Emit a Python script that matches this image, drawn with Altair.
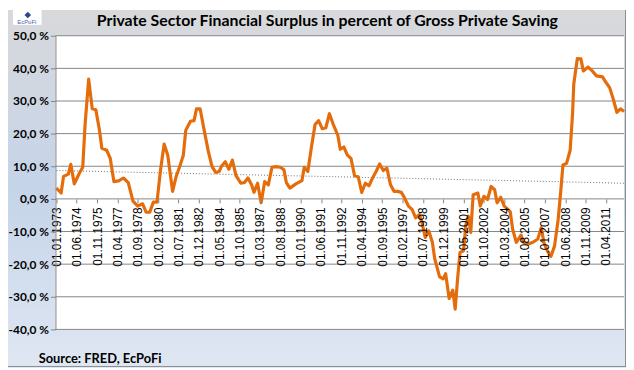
import altair as alt
import pandas as pd

# ---------------- data ----------------
dates = [
    "1973-01-01", "1973-05-01", "1973-07-01", "1973-11-01", "1974-01-01", "1974-04-01", "1974-08-01", "1974-11-01",
    "1975-01-01", "1975-04-01", "1975-07-01", "1975-10-01", "1976-01-01", "1976-03-01", "1976-07-01", "1976-10-01",
    "1977-01-01", "1977-05-01", "1977-09-01", "1978-01-01", "1978-05-01", "1978-09-01", "1979-01-01", "1979-04-01",
    "1979-07-01", "1979-10-01", "1980-01-01", "1980-04-01", "1980-07-01", "1980-10-01", "1981-02-01", "1981-05-01",
    "1981-08-01", "1981-11-01", "1982-01-01", "1982-05-01", "1982-08-01", "1982-10-01", "1983-01-01", "1983-05-01",
    "1983-08-01", "1983-11-01", "1984-02-01", "1984-05-01", "1984-07-01", "1984-10-01", "1985-01-01", "1985-04-01",
    "1985-07-01", "1985-11-01", "1986-02-01", "1986-05-01", "1986-08-01", "1986-10-01", "1987-01-01", "1987-04-01",
    "1987-07-01", "1987-10-01", "1988-01-01", "1988-04-01", "1988-08-01", "1988-11-01", "1989-01-01", "1989-04-01",
    "1989-09-01", "1990-02-01", "1990-04-01", "1990-07-01", "1990-10-01", "1991-01-01", "1991-04-01", "1991-07-01",
    "1991-10-01", "1992-01-01", "1992-04-01", "1992-08-01", "1992-10-01", "1993-01-01", "1993-04-01", "1993-07-01",
    "1993-10-01", "1994-01-01", "1994-04-01", "1994-07-01", "1994-10-01", "1995-01-01", "1995-04-01", "1995-07-01",
    "1995-10-01", "1996-01-01", "1996-04-01", "1996-07-01", "1996-10-01", "1997-01-01", "1997-03-01", "1997-07-01",
    "1997-10-01", "1998-01-01", "1998-04-01", "1998-06-01", "1998-09-01", "1998-12-01", "1999-03-01", "1999-05-01",
    "1999-09-01", "1999-12-01", "2000-02-01", "2000-05-01", "2000-08-01", "2000-10-01", "2000-12-01", "2001-02-01",
    "2001-05-01", "2001-07-01", "2001-09-01", "2001-11-01", "2002-01-01", "2002-05-01", "2002-07-01", "2002-10-01",
    "2003-01-01", "2003-04-01", "2003-07-01", "2003-09-01", "2003-12-01", "2004-03-01", "2004-06-01", "2004-08-01",
    "2004-10-01", "2005-01-01", "2005-05-01", "2005-07-01", "2005-11-01", "2006-03-01", "2006-07-01", "2006-10-01",
    "2006-12-01", "2007-03-01", "2007-06-01", "2007-09-01", "2007-12-01", "2008-02-01", "2008-04-01", "2008-07-01",
    "2008-10-01", "2008-12-01", "2009-01-01", "2009-04-01", "2009-07-01", "2009-09-01", "2010-01-01", "2010-04-01",
    "2010-08-01", "2011-01-01", "2011-03-01", "2011-07-01", "2011-10-01", "2012-01-01", "2012-04-01", "2012-07-01",
]
values = [
    3.3, 1.8, 6.9, 7.6, 10.6, 4.6, 7.7, 9.7,
    23.0, 36.7, 27.6, 27.3, 21.0, 15.5, 14.9, 12.4,
    5.3, 5.5, 6.4, 5.0, -0.7, -2.2, -1.5, -4.1,
    -4.1, -1.0, -1.0, 8.9, 16.8, 13.4, 2.3, 6.8,
    9.9, 13.4, 21.0, 23.8, 24.0, 27.6, 27.6, 20.0,
    14.4, 9.9, 8.1, 8.4, 10.1, 11.4, 9.1, 11.9,
    7.1, 4.8, 5.0, 6.4, 4.3, 2.0, 4.8, -1.2,
    5.3, 4.3, 9.7, 9.9, 9.7, 8.9, 5.0, 3.3,
    4.6, 5.6, 9.7, 8.4, 15.9, 22.8, 24.0, 21.5,
    21.8, 26.1, 23.0, 19.5, 15.2, 15.9, 13.4, 12.4,
    7.1, 6.8, 2.0, 4.8, 4.0, 6.4, 8.4, 10.7,
    8.7, 9.4, 4.3, 2.3, 2.3, 2.0, 0.8, -2.2,
    -3.2, -5.8, -4.8, -6.8, -11.8, -9.8, -13.3, -18.4,
    -23.9, -24.5, -22.9, -30.5, -28.0, -33.8, -24.5, -16.4,
    -15.9, -7.8, -5.3, -10.3, 1.3, 1.8, -2.2, 0.8,
    -0.2, 3.8, 2.8, -1.2, 0.5, -2.2, -3.2, -4.0,
    -9.3, -13.3, -11.1, -13.3, -13.8, -13.3, -12.3, -8.8,
    -13.3, -15.9, -17.6, -14.4, -6.3, 1.8, 10.4, 10.9,
    14.9, 26.1, 35.2, 43.0, 42.9, 39.2, 40.4, 39.4,
    37.7, 37.4, 36.2, 34.1, 30.6, 26.5, 27.6, 26.8,
]
# linear trend line at its two ends
trend_dates = ["1973-01-01", "2012-07-01"]
trend_values = [8.7, 4.8]

x_tick_dates = [
    "1973-01-01", "1974-06-01", "1975-11-01", "1977-04-01", "1978-09-01", "1980-02-01", "1981-07-01",
    "1982-12-01", "1984-05-01", "1985-10-01", "1987-03-01", "1988-08-01", "1990-01-01", "1991-06-01",
    "1992-11-01", "1994-04-01", "1995-09-01", "1997-02-01", "1998-07-01", "1999-12-01", "2001-05-01",
    "2002-10-01", "2004-03-01", "2005-08-01", "2007-01-01", "2008-06-01", "2009-11-01", "2011-04-01",
]
x_domain = ["1972-12-08", "2012-07-01"]
y_ticks = [-40, -30, -20, -10, 0, 10, 20, 30, 40, 50]
title_text = "Private Sector Financial Surplus in percent of Gross Private Saving"
source_text = "Source: FRED,  EcPoFi"
logo_text = "EcPoFi"

# ---------------- layout ----------------
W, H = 575, 297
one = alt.Data(values=[{}])


def dt(s):
    y, m, d = map(int, s.split("-"))
    return alt.DateTime(year=y, month=m, date=d)


df = pd.DataFrame({"date": dates, "value": values})
trend_df = pd.DataFrame({"date": trend_dates, "value": trend_values})
grid_df = pd.DataFrame({"v": y_ticks})

xscale = alt.Scale(domain=[dt(x_domain[0]), dt(x_domain[1])])
yscale = alt.Scale(domain=[-40, 50], nice=False, zero=False)

yaxis = alt.Axis(
    values=y_ticks, title=None, grid=False, zindex=1,
    labelExpr="(datum.value < 0 ? '-' : '') + replace(format(abs(datum.value), '.1f'), '.', ',') + ' %'",
    labelFont="Lato", labelFontWeight="bold", labelFontSize=12, labelColor="black",
    labelPadding=2, tickSize=5, tickColor="#868686", domainColor="#868686",
)
xaxis = alt.Axis(
    values=[dt(s) for s in x_tick_dates], format="%d.%m.%Y", title=None, grid=False, zindex=1,
    labelAngle=270, labelFont="Liberation Sans", labelFontSize=12, labelColor="black",
    labelPadding=4, labelOverlap=False, labelFlush=False, labelBound=False,
    tickSize=4, tickColor="#868686", domain=False, offset=-132,
)

bg = alt.Chart(one).mark_rect(
    fill=alt.LinearGradient(
        gradient="linear",
        stops=[
            alt.GradientStop(color="#d8d9db", offset=0),
            alt.GradientStop(color="#c5d4e9", offset=0.5),
            alt.GradientStop(color="#dfe7f2", offset=1),
        ],
        x1=0, x2=0, y1=0, y2=1,
    )
).encode(x=alt.value(-48), x2=alt.value(577), y=alt.value(-26), y2=alt.value(336))

plot_bg = alt.Chart(one).mark_rect(fill="white").encode(
    x=alt.value(0), x2=alt.value(W), y=alt.value(0), y2=alt.value(H)
)

grid = alt.Chart(grid_df).mark_rule(color="#868686", strokeWidth=1).encode(
    y=alt.Y("v:Q", scale=yscale, axis=yaxis), x=alt.value(0), x2=alt.value(W)
)

trend = alt.Chart(trend_df).mark_line(color="#6f6f6f", strokeDash=[1, 2], strokeWidth=1).encode(
    x=alt.X("date:T", scale=xscale, axis=xaxis), y=alt.Y("value:Q", scale=yscale, axis=yaxis)
)

line = alt.Chart(df).mark_line(color="#E46C0A", strokeWidth=3.2, strokeJoin="round").encode(
    x=alt.X("date:T", scale=xscale, axis=xaxis), y=alt.Y("value:Q", scale=yscale, axis=yaxis)
)

title = alt.Chart(alt.Data(values=[{"t": title_text}])).mark_text(
    font="Lato", fontWeight="bold", fontSize=16, align="center", baseline="middle", color="black"
).encode(x=alt.value(275), y=alt.value(-15), text="t:N")

source = alt.Chart(alt.Data(values=[{"t": source_text}])).mark_text(
    font="Lato", fontWeight="bold", fontSize=13, align="left", baseline="middle", color="black"
).encode(x=alt.value(-17), y=alt.value(327), text="t:N")

logo_box = alt.Chart(one).mark_rect(fill="white").encode(
    x=alt.value(-43), x2=alt.value(-14), y=alt.value(-26), y2=alt.value(-11)
)
logo_mark = alt.Chart(one).mark_point(shape="diamond", filled=True, color="#2a4b8d", size=45, opacity=1).encode(
    x=alt.value(-28), y=alt.value(-21)
)
logo_txt = alt.Chart(alt.Data(values=[{"t": logo_text}])).mark_text(
    font="Liberation Sans", fontSize=6, align="center", baseline="middle", color="#4466aa"
).encode(x=alt.value(-29), y=alt.value(-13.5), text="t:N")

border_r = alt.Chart(one).mark_rule(color="#8c8c8c", strokeWidth=1).encode(
    x=alt.value(576.5), y=alt.value(-26), y2=alt.value(335)
)
border_b = alt.Chart(one).mark_rule(color="#8c8c8c", strokeWidth=1).encode(
    x=alt.value(-48), x2=alt.value(577), y=alt.value(334.5)
)

chart = (
    alt.layer(bg, plot_bg, grid, trend, line, title, source, logo_box, logo_mark, logo_txt, border_r, border_b)
    .properties(
        width=W, height=H,
        padding={"left": 48, "top": 26, "right": 2, "bottom": 38},
        autosize=alt.AutoSizeParams(type="none"),
    )
    .configure_view(stroke=None)
)

chart.save("out.html", embed_options={"renderer": "svg", "actions": False})
